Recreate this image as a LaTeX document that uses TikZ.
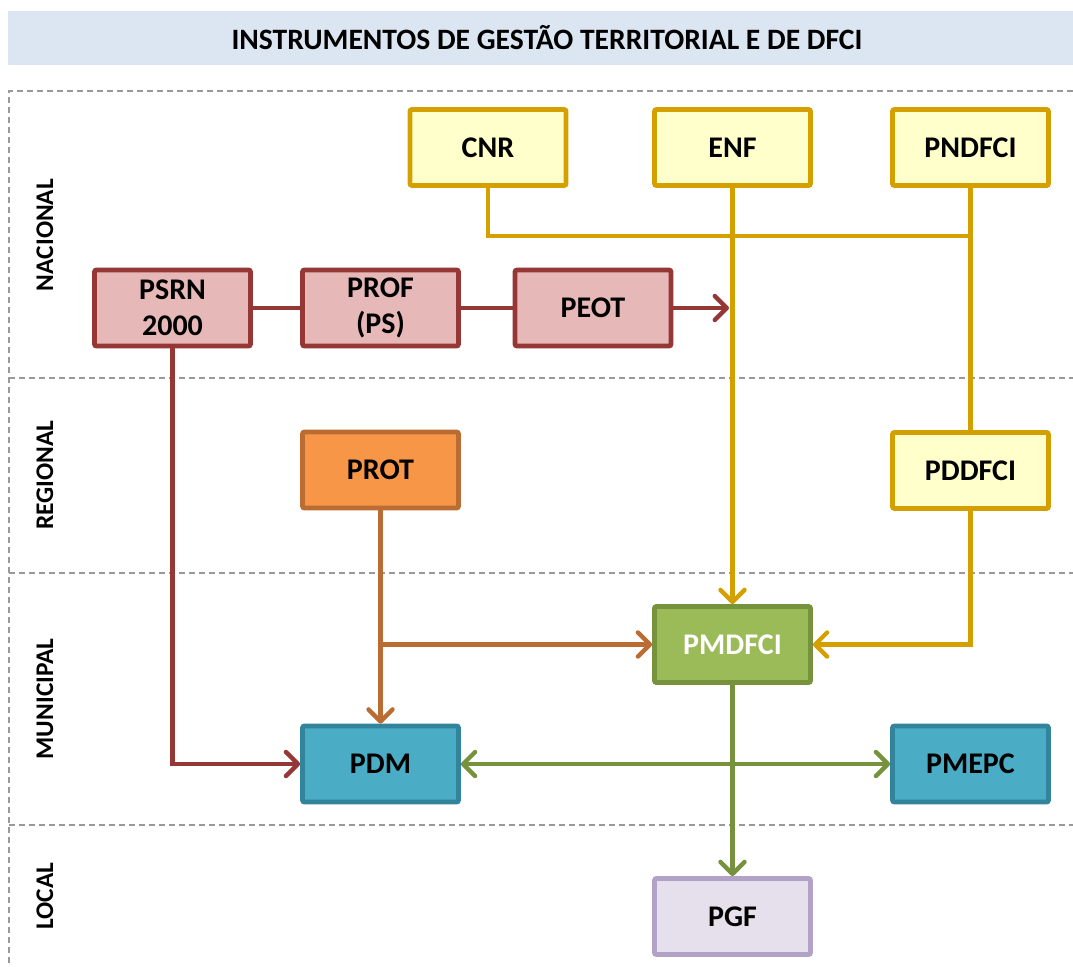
\documentclass[tikz,border=0pt]{standalone}
\usepackage{fontspec}
\setmainfont{Carlito}
\usetikzlibrary{arrows.meta}
\definecolor{titlebg}{RGB}{220,230,242}
\definecolor{yelfill}{RGB}{255,255,204}
\definecolor{yeldraw}{RGB}{212,160,0}
\definecolor{redfill}{RGB}{230,185,184}
\definecolor{reddraw}{RGB}{149,55,53}
\definecolor{orafill}{RGB}{247,150,70}
\definecolor{oradraw}{RGB}{186,108,50}
\definecolor{grnfill}{RGB}{155,187,89}
\definecolor{grndraw}{RGB}{118,146,60}
\definecolor{blufill}{RGB}{75,172,198}
\definecolor{bludraw}{RGB}{49,132,155}
\definecolor{lavfill}{RGB}{229,224,236}
\definecolor{lavdraw}{RGB}{179,162,199}

\begin{document}
\begin{tikzpicture}[x=0.5pt,y=-0.5pt,
	box/.style={draw,line width=2.4pt,rounded corners=1pt,minimum width=78pt,minimum height=38pt,
		align=center,font=\bfseries\fontsize{15}{18}\selectfont},
	yel/.style={box,fill=yelfill,draw=yeldraw},
	pinkbox/.style={box,fill=redfill,draw=reddraw},
	orabox/.style={box,fill=orafill,draw=oradraw},
	grnbox/.style={box,fill=grnfill,draw=grndraw,text=white},
	blubox/.style={box,fill=blufill,draw=bludraw},
	lavbox/.style={box,fill=lavfill,draw=lavdraw},
	lvl/.style={rotate=90,font=\bfseries\fontsize{12.7}{15}\selectfont},
	zone/.style={draw=gray!80,line width=0.6pt,dash pattern=on 3pt off 2pt},
	conn/.style={line width=2.2pt},
	arr/.style={conn,-{Straight Barb[length=6pt,width=12pt,round]}},
	darr/.style={conn,{Straight Barb[length=6pt,width=12pt,round]}-{Straight Barb[length=6pt,width=12pt,round]}}
	]

	\useasboundingbox (0,0) rectangle (1073,966);

	% title
	\fill[titlebg] (8,11) rectangle (1073,65);
	\node[font=\bfseries\fontsize{14.8}{18}\selectfont] (title) at (547,38) {INSTRUMENTOS DE GESTÃO TERRITORIAL E DE DFCI};

	% levels
	\draw[zone] (1073,91) -- (9,91) -- (9,966);
	\draw[zone] (9,378) -- (1073,378);
	\draw[zone] (9,573) -- (1073,573);
	\draw[zone] (9,825) -- (1073,825);
	\node[lvl] (nac) at (45,235) {NACIONAL};
	\node[lvl] (reg) at (45,475) {REGIONAL};
	\node[lvl] (mun) at (45,699) {MUNICIPAL};
	\node[lvl] (loc) at (45,896) {LOCAL};

	% boxes
	\node[yel] (cnr) at (488,147.5) {CNR};
	\node[yel] (enf) at (732.5,147.5) {ENF};
	\node[yel] (pndfci) at (970.5,147.5) {PNDFCI};
	\node[pinkbox] (psrn) at (172.5,308) {PSRN\\2000};
	\node[pinkbox] (prof) at (380.5,308) {PROF\\(PS)};
	\node[pinkbox] (peot) at (593,308) {PEOT};
	\node[orabox] (prot) at (380.5,470) {PROT};
	\node[yel] (pddfci) at (970.5,470.5) {PDDFCI};
	\node[grnbox] (pmdfci) at (732.5,644.5) {PMDFCI};
	\node[blubox] (pdm) at (380.5,764) {PDM};
	\node[blubox] (pmepc) at (970.5,764) {PMEPC};
	\node[lavbox] (pgf) at (732.5,916.5) {PGF};

	\coordinate (jn) at (970.5,236);
	\coordinate (peotend) at (729,308);

	% connectors
	\draw[conn,yeldraw] (cnr.south) |- (jn);
	\draw[conn,yeldraw] (pndfci) -- (pddfci);
	\draw[arr,yeldraw] (enf) -- (pmdfci);
	\draw[arr,yeldraw] (pddfci.south) |- (pmdfci.east);
	\draw[conn,reddraw] (psrn) -- (prof);
	\draw[conn,reddraw] (prof) -- (peot);
	\draw[arr,reddraw] (peot) -- (peotend);
	\draw[arr,reddraw] (psrn.south) |- (pdm.west);
	\draw[arr,oradraw] (prot) -- (pdm);
	\draw[arr,oradraw] (prot.south) |- (pmdfci.west);
	\draw[darr,grndraw] (pdm) -- (pmepc);
	\draw[arr,grndraw] (pmdfci) -- (pgf);

\end{tikzpicture}
\end{document}
